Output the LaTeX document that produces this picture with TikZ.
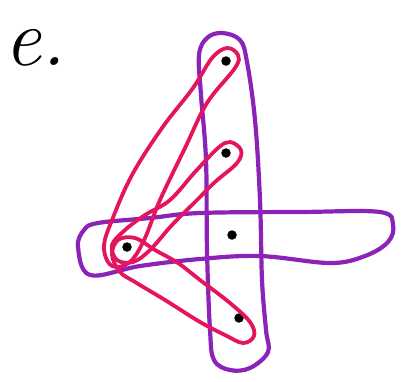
\documentclass[tikz,border=0pt]{standalone}
\usepackage{fontspec}
\definecolor{hpurple}{RGB}{140,35,185}
\definecolor{hpink}{RGB}{228,20,95}
\begin{document}
\begin{tikzpicture}[x=1pt,y=-1pt,
  purpleedge/.style={draw=hpurple,line width=4.2pt,line join=round},
  pinkedge/.style={draw=hpink,line width=3.8pt,line join=round},
  vertex/.style={circle,fill=black,inner sep=0pt,minimum size=9.5pt}]
\useasboundingbox (0,0) rectangle (401,381);
% label
\node[anchor=base west,inner sep=0pt,font=\fontsize{82}{82}\selectfont\itshape] (lab) at (4,65) {e.};
% vertices
\node[vertex] (v1) at (226,61) {};
\node[vertex] (v2) at (226,153) {};
\node[vertex] (v3) at (232,235) {};
\node[vertex] (v4) at (239,318) {};
\node[vertex] (v0) at (127,247) {};
% purple hyperedges
\draw[purpleedge] plot[smooth cycle,tension=0.6] coordinates {
 (222,33) (240,40) (247,62) (255,120) (260,200) (262,280) (266,330) (268,352)
 (250,368) (230,370) (214,360) (210,330) (207,250) (206,160) (201,95) (199,55) (207,38)};
\draw[purpleedge] plot[smooth cycle,tension=0.6] coordinates {
 (90,275) (78,247) (84,230) (98,223) (150,218) (200,213) (300,212) (380,212)
 (393,225) (388,242) (365,256) (330,263) (260,256) (200,259) (140,266)};
% pink hyperedges
\draw[pinkedge] plot[smooth cycle,tension=0.6] coordinates {
 (108,262) (104,245) (112,220) (132,175) (162,128) (193,88) (212,58)
 (227,48) (238,55) (235,68) (207,103) (185,148) (160,200) (145,238)
 (132,260) (118,267)};
\draw[pinkedge] plot[smooth cycle,tension=0.6] coordinates {
 (218,148) (230,142) (241,150) (237,163) (215,182) (197,200) (172,225) (150,250)
 (133,262) (117,260) (112,245) (125,230) (145,215) (170,200) (195,172)};
\draw[pinkedge] plot[smooth cycle,tension=0.6] coordinates {
 (112,255) (118,240) (135,238) (155,250) (178,263) (200,280) (230,303) (250,322)
 (254,336) (243,343) (225,335) (200,322) (165,300) (135,282) (120,272)};
\end{tikzpicture}
\end{document}
